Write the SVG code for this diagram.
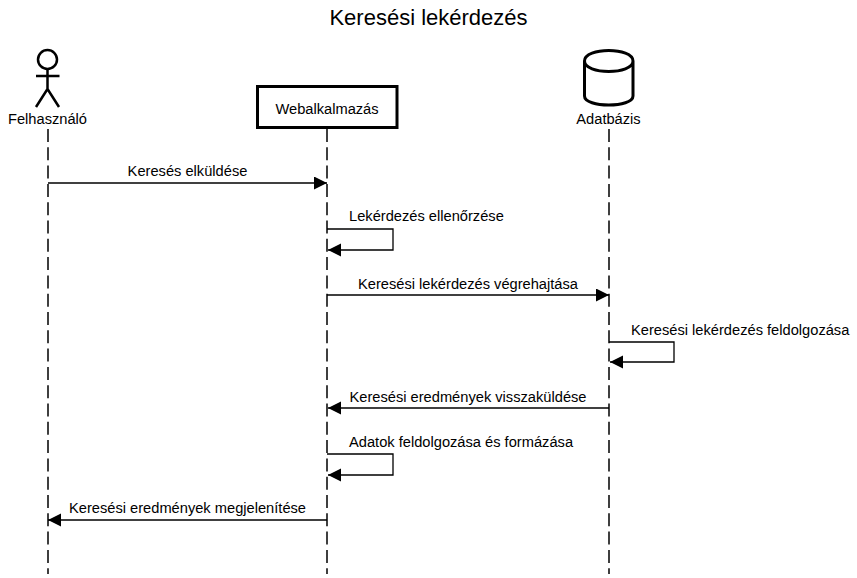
<svg xmlns="http://www.w3.org/2000/svg" width="857" height="578" viewBox="0 0 857 578">
<style>
text{font-family:"Liberation Sans",Arial,sans-serif;font-size:14.67px;fill:#000}
.c{text-anchor:middle}
.l{stroke:#000;stroke-width:1.3;fill:none}
.life{stroke:#000;stroke-width:1.5;fill:none;stroke-dasharray:13 5.300}
</style>
<defs><marker id="a" markerUnits="userSpaceOnUse" markerWidth="14" markerHeight="14" refX="13" refY="6.5" orient="auto"><path d="M0 0L13 6.5L0 13z" fill="#000"/></marker></defs>
<rect width="857" height="578" fill="#fff"/>
<text class="c" x="428.500" y="25" style="font-size:22px">Keresési lekérdezés</text>
<g id="lifelines">
<line class="life" x1="48" y1="129" x2="48" y2="574"/>
<line class="life" x1="327" y1="129" x2="327" y2="574"/>
<line class="life" x1="609" y1="129" x2="609" y2="574"/>
</g>
<g id="felhasznalo">
<g fill="#fff" stroke="#000" stroke-width="2.500"><circle cx="47.500" cy="59.500" r="9.500"/><path d="M47.500 69V89M36 76H59.500M47.500 89L36 107M47.500 89L59 107" fill="none"/></g>
<text class="c" x="47.500" y="124">Felhasználó</text>
</g>
<g id="webalkalmazas">
<rect x="257.500" y="86.500" width="139.500" height="41" fill="#fff" stroke="#000" stroke-width="3"/>
<text class="c" x="327" y="114">Webalkalmazás</text>
</g>
<g id="adatbazis">
<path d="M584.500 61V96C584.500 108 633 108 633 96V61C633 47 584.500 47 584.500 61C584.500 75 633 75 633 61" fill="#fff" stroke="#000" stroke-width="3"/>
<text class="c" x="608.500" y="124">Adatbázis</text>
</g>
<g id="connectors">
<path class="l" d="M48 183H327" marker-end="url(#a)"/>
<path class="l" d="M327 229H393V250H328" marker-end="url(#a)"/>
<path class="l" d="M327 295H609" marker-end="url(#a)"/>
<path class="l" d="M609 342H674V362H610" marker-end="url(#a)"/>
<path class="l" d="M609 408H328" marker-end="url(#a)"/>
<path class="l" d="M327 454H393V475H328" marker-end="url(#a)"/>
<path class="l" d="M327 520H48" marker-end="url(#a)"/>
</g>
<g id="labels">
<text class="c" x="187.500" y="176">Keresés elküldése</text>
<text x="349" y="221">Lekérdezés ellenőrzése</text>
<text class="c" x="468" y="289">Keresési lekérdezés végrehajtása</text>
<text x="631" y="335">Keresési lekérdezés feldolgozása</text>
<text class="c" x="468" y="402">Keresési eredmények visszaküldése</text>
<text x="349" y="447">Adatok feldolgozása és formázása</text>
<text class="c" x="187.500" y="513">Keresési eredmények megjelenítése</text>
</g>
</svg>
